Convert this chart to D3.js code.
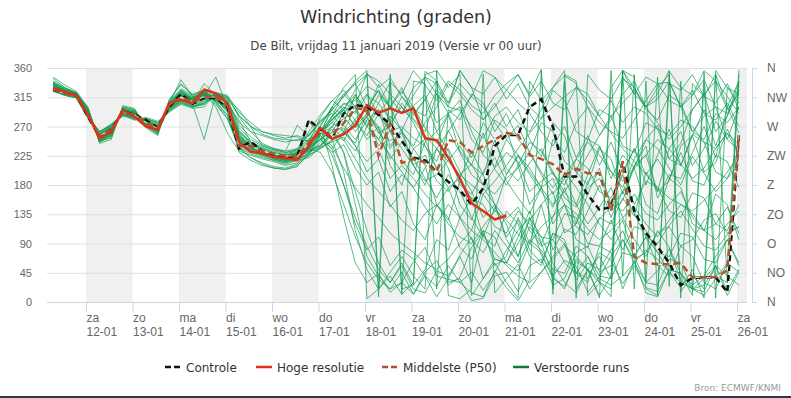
<!DOCTYPE html>
<html lang="nl">
<head>
  <meta charset="UTF-8">
  <title>Windrichting (graden)</title>
  <script src="https://d3js.org/d3.v7.min.js"></script>
  <style>
    body { margin: 0; background: #fff; }
    svg { font-family: "DejaVu Sans", Verdana, sans-serif; display: block; }
    .tick text { fill: #666; }
  </style>
</head>
<body>
  <svg width="791" height="398"></svg>

  <script>
    // Tijdas: 6-uurlijkse stappen vanaf vr 11-01 07:00
    const startTime = Date.UTC(2019, 0, 11, 7);
    const stepHours = 6;

    const dayNames = ["za", "zo", "ma", "di", "wo", "do", "vr", "za", "zo", "ma", "di", "wo", "do", "vr", "za"];
    const dayDates = ["12-01", "13-01", "14-01", "15-01", "16-01", "17-01", "18-01", "19-01", "20-01", "21-01", "22-01", "23-01", "24-01", "25-01", "26-01"];
    const shadedDays = ["12-01", "14-01", "16-01", "18-01", "20-01", "22-01", "24-01", "26-01"];

    const leftTicks = [0, 45, 90, 135, 180, 225, 270, 315, 360];
    const compassLabels = ["N", "NO", "O", "ZO", "Z", "ZW", "W", "NW", "N"];

    // Controle run
    const controle = [326,322,318,285,254,265,293,288,280,268, 300,320,305,314,314,300,236,247,232,226,
      223,224,280,265,252,290,303,300,288,274, 248,222,218,200,185,172,150,175,240,257,
      257,300,312,270,193,193,165,142,146,216, 140,106,85,60,26,37,38,38,15,257];

    // Hoge resolutie (eindigt na 10 dagen)
    const hogeResolutie = [329,323,318,288,252,262,295,285,270,265, 306,311,306,327,321,306,246,231,229,223,
      221,218,240,268,251,258,272,303,291,298, 291,298,252,249,222,190,152,140,127,133];

    // Middelste (P50)
    const p50 = [327,321,318,287,256,264,292,288,276,267, 303,315,308,316,315,303,240,240,232,228,
      225,224,245,262,258,275,298,296,225,275, 214,220,215,200,249,246,230,240,250,260,
      257,226,220,212,195,205,198,198,140,216, 70,60,58,58,60,38,38,38,49,257];

    // Verstoorde runs
    const m01 = [336,326,320,295,250,258,296,292,274,262, 305,326,312,322,316,300,250,236,230,226, 222,230,262,288,310,296,268,284,318,300, 262,236,250,204,176,190,232,196,150,128, 146,110,86,96,60,44,70,30,20,356, 330,300,312,340,300,262,286,300,250,232];
    const m02 = [328,320,316,285,258,268,290,284,278,272, 298,312,300,310,318,306,276,262,256,250, 246,250,248,262,285,304,310,332,322,300, 290,318,346,336,300,295,270,252,286,300, 276,262,296,330,348,336,300,276,262,252, 280,310,336,338,300,318,356,340,296,320];
    const m03 = [340,330,322,298,248,252,300,296,270,258, 310,336,318,325,308,288,240,232,226,220, 215,220,245,270,210,130,60,30,44,15, 30,62,84,40,35,30,46,18,45,80, 110,130,72,40,64,55,15,38,70,96, 60,30,48,82,34,20,26,55,18,50];
    const m04 = [325,318,314,282,260,270,288,280,282,276, 296,308,302,306,322,312,296,270,240,234, 230,234,248,258,282,296,320,290,270,248, 260,210,186,196,218,240,210,196,250,205, 186,214,236,200,168,150,196,240,200,176, 220,250,236,206,180,224,198,170,190,212];
    const m05 = [332,324,318,290,252,262,292,290,276,266, 300,316,310,318,304,282,236,228,222,218, 212,218,230,250,286,320,300,352,330,345, 316,290,312,262,288,232,210,260,204,180, 210,150,176,120,150,96,84,130,120,160, 132,200,170,236,262,210,236,278,250,300];
    const m06 = [330,322,318,288,256,266,298,286,272,264, 306,322,306,314,310,302,262,246,238,232, 228,232,236,250,230,242,206,180,200,146, 170,120,96,150,130,84,66,110,100,60, 48,90,76,36,24,62,50,10,40,356, 20,340,10,355,330,318,342,300,290,330];
    const m07 = [338,328,322,294,246,256,294,294,276,262, 300,318,314,324,318,304,256,240,232,228, 224,236,258,278,296,276,318,296,326,300, 330,286,312,340,306,356,330,320,346,312, 336,300,282,326,310,262,250,296,286,240, 230,276,266,220,210,258,246,200,190,236];
    const m08 = [326,320,316,286,262,272,286,282,280,274, 294,306,300,304,320,316,284,262,244,236, 232,272,255,280,290,262,244,292,266,210, 180,236,210,150,126,186,160,100,86,140, 120,70,56,106,96,44,30,86,76,20, 64,14,8,50,44,26,40,70,96,60];
    const m09 = [334,324,318,292,250,260,296,290,274,262, 308,326,316,320,300,260,232,226,220,216, 210,214,225,260,300,330,350,5,20,350, 12,340,336,20,296,280,320,306,262,290, 250,230,276,262,216,200,250,240,190,226, 206,250,272,220,244,296,320,262,286,340];
    const m10 = [330,322,320,290,254,264,292,288,276,268, 304,316,310,316,316,306,250,238,232,226, 222,226,232,240,262,248,282,296,260,270, 306,282,262,320,290,300,250,230,280,266, 210,246,232,196,180,220,206,170,160,196, 150,186,176,140,130,168,160,120,110,150];
    const m11 = [346,334,324,300,244,250,302,298,268,256, 312,334,320,326,306,282,238,230,224,218, 214,218,222,238,260,230,150,70,40,20, 30,12,46,64,26,38,84,110,56,70, 130,90,150,170,106,120,186,200,140,156, 210,226,170,186,240,256,200,214,266,230];
    const m12 = [324,318,314,284,262,274,288,280,284,278, 292,304,298,300,322,318,292,276,262,256, 252,256,250,262,276,300,290,318,306,338, 320,356,334,310,340,326,302,290,318,336, 350,320,358,12,340,6,350,326,312,344, 330,296,280,318,306,262,250,290,276,300];
    const m13 = [332,326,320,292,252,260,294,292,274,264, 302,318,308,318,310,296,244,234,228,222, 218,222,236,250,266,230,170,110,60,30, 56,20,14,48,40,72,100,36,66,60, 90,126,150,80,112,104,140,180,130,170, 210,240,160,196,190,230,270,222,300,260];
    const m14 = [336,326,318,290,248,258,298,288,272,260, 302,322,312,318,314,300,254,240,232,226, 220,224,246,284,310,326,300,270,296,240, 266,210,180,236,206,150,126,176,150,100, 126,80,60,106,90,46,36,76,64,28, 56,22,16,50,44,10,354,40,30,350];
    const m15 = [328,320,318,288,256,268,290,284,278,270, 298,310,304,312,318,308,264,246,236,230, 226,230,244,262,280,296,270,290,262,236, 262,240,276,300,336,320,296,280,306,270, 296,250,224,276,256,200,180,236,220,166, 206,150,136,190,176,120,110,166,150,96];
    const m16 = [330,324,320,292,250,260,294,290,276,266, 304,318,312,322,312,292,230,218,210,206, 204,208,230,260,250,200,110,50,20,40, 12,30,355,340,10,5,20,350,14,36, 58,20,46,70,90,34,60,50,80,110, 70,100,56,40,86,70,30,20,60,46];
    const m17 = [334,326,320,294,252,262,296,292,274,262, 304,320,312,320,316,302,258,242,234,228, 224,228,234,242,262,290,315,290,335,300, 325,300,268,244,290,310,262,226,208,250, 272,230,196,166,190,150,120,146,176,130, 96,70,110,84,44,20,10,36,60,356];
    const m18 = [326,320,316,286,260,270,288,284,280,272, 296,310,304,308,320,312,272,254,242,236, 232,236,250,272,300,286,262,286,240,264, 218,196,246,262,232,180,166,200,222,186, 160,136,176,190,150,116,104,128,146,170, 136,100,90,118,140,112,86,80,104,116];
    const m19 = [338,328,322,296,248,256,298,294,272,260, 306,324,314,322,310,294,238,222,214,208, 206,212,238,256,235,180,120,80,100,56, 80,66,40,24,56,30,14,8,48,22, 2,34,356,20,350,340,10,28,330,356, 320,346,336,310,300,326,290,280,306,270];
    const m20 = [330,322,318,290,254,264,292,288,276,266, 302,316,310,318,314,302,252,238,230,226, 222,226,232,240,256,272,250,280,296,262, 270,252,240,216,264,230,196,180,206,230, 216,170,186,200,160,146,176,190,150,140, 166,136,126,150,170,130,110,120,146,106];
    const m21 = [332,324,318,290,252,260,294,290,274,264, 304,318,312,320,312,298,248,236,230,224, 220,224,240,270,300,320,336,300,326,276, 300,276,240,206,236,200,170,130,150,96, 70,130,100,60,30,14,50,70,36,356, 346,20,10,336,326,350,316,306,336,296];
    const m22 = [328,320,316,288,258,268,290,286,278,270, 300,312,306,312,318,306,260,244,236,230, 226,230,238,252,226,180,130,85,50,30, 60,26,50,96,80,130,110,166,140,196, 226,206,176,250,230,276,300,256,280,320, 340,300,320,356,6,336,316,350,300,340];
    const m23 = [336,326,320,292,250,258,296,292,272,262, 306,322,314,322,314,298,250,236,228,222, 218,220,226,236,248,262,278,256,290,314, 290,330,346,320,300,356,330,280,300,326, 306,290,262,240,270,222,256,210,246,200, 236,196,220,190,230,186,180,226,216,176];
    const m24 = [330,322,320,290,254,262,292,288,276,268, 302,316,308,316,316,304,254,240,232,226, 222,226,244,262,280,300,280,250,270,220, 246,220,190,160,196,170,130,100,146,120, 70,116,90,40,20,66,50,6,356,40, 350,30,346,24,340,16,336,6,330,320];
    const m25 = [344,330,322,298,246,254,300,296,270,258, 310,328,318,324,308,286,236,222,212,206, 204,210,226,236,250,268,240,200,220,170, 196,176,146,120,150,130,96,76,110,86, 60,96,80,50,44,86,70,40,36,76, 70,30,26,66,60,20,16,56,10,46];
    const m26 = [326,318,314,284,262,272,288,282,282,276, 294,306,300,304,322,316,286,270,262,258, 256,254,246,258,270,282,294,270,306,280, 316,296,286,326,306,336,316,356,346,326, 350,316,340,306,296,330,320,286,310,276, 300,290,266,256,280,270,246,236,260,226];
    const m27 = [334,324,318,292,252,262,296,290,276,264, 306,320,310,318,312,296,246,234,228,224, 220,224,236,230,200,150,100,60,35,20, 46,12,40,8,36,70,30,106,66,60, 100,140,90,130,176,120,166,206,150,196, 236,180,226,266,210,256,296,240,286,326];
    const m28 = [330,322,318,288,256,266,294,288,274,266, 302,318,310,318,316,304,256,240,232,228, 224,228,236,250,270,296,326,350,8,340, 20,26,350,356,30,36,2,6,40,46, 16,56,66,26,36,76,86,46,56,96, 66,76,106,116,86,96,126,136,106,116];
    const m29 = [332,326,320,292,250,260,296,292,274,262, 304,320,314,322,314,300,252,238,230,226, 222,226,230,238,246,254,232,270,250,286, 264,302,318,276,290,250,222,276,250,196, 224,196,170,146,200,176,150,120,96,126, 70,100,76,46,22,50,6,350,30,340];
    const m30 = [328,320,316,286,258,270,290,284,280,272, 298,310,304,250,320,310,268,250,240,234, 230,234,244,258,276,262,240,216,236,190, 210,190,166,146,176,130,160,150,116,106, 140,120,100,96,136,130,90,86,126,80, 116,110,76,70,106,100,66,60,96,56];
    const m31 = [332,322,318,290,256,264,294,290,278,268, 306,342,316,320,314,302,280,246,226,220, 216,222,280,250,236,262,300,320,288,262, 236,210,226,186,170,196,212,180,166,190, 206,230,200,176,196,220,246,226,200,186, 206,226,250,236,212,190,206,236,260,242];
    const m32 = [330,324,318,288,254,262,296,288,274,264, 300,318,306,336,318,296,262,246,232,224, 218,220,228,246,270,250,220,190,170,150, 126,110,136,150,120,100,90,116,140,126, 104,90,116,132,150,136,112,96,110,130, 146,120,100,126,150,136,110,96,120,140];
    const m33 = [334,326,318,292,254,260,294,292,276,262, 302,320,312,318,346,298,246,234,236,220, 216,222,236,260,296,316,340,356,20,46, 70,40,20,356,330,350,10,36,60,30, 6,340,310,330,356,20,50,30,8,346, 320,300,330,350,16,40,20,356,330,306];
    const m34 = [330,320,316,288,256,266,292,286,276,268, 300,314,308,316,314,304,254,242,234,226, 222,228,240,262,286,306,296,276,250,226, 200,176,206,236,262,290,316,300,276,250, 226,200,176,150,170,196,226,256,286,306, 326,300,276,250,270,296,320,340,316,290];
    const m35 = [338,328,322,296,248,256,298,294,272,262, 306,324,312,322,312,296,248,232,226,222, 218,222,234,256,240,206,176,150,130,106, 90,76,60,50,66,90,110,96,76,56, 40,30,46,66,86,70,50,36,26,40, 60,80,66,46,30,20,36,56,40,26];
    const m36 = [326,320,316,286,262,272,290,284,282,276, 296,308,300,306,320,314,288,270,258,252, 250,248,256,276,296,316,336,350,340,320, 300,280,256,236,216,196,180,166,186,210, 236,260,282,300,316,330,310,286,260,236, 216,196,176,160,150,140,156,176,200,226];

    const members = [m01, m02, m03, m04, m05, m06, m07, m08, m09, m10, m11, m12, m13, m14, m15, m16, m17, m18,
      m19, m20, m21, m22, m23, m24, m25, m26, m27, m28, m29, m30, m31, m32, m33, m34, m35, m36];

    const svg = d3.select("svg");
    const plot = { left: 47, right: 747, top: 68, bottom: 302 };

    const timeAt = i => new Date(startTime + i * stepHours * 3600e3);
    const parseDay = s => { const [d, m] = s.split("-").map(Number); return new Date(Date.UTC(2019, m - 1, d)); };

    const x = d3.scaleUtc()
      .domain([new Date(Date.UTC(2019, 0, 11, 3, 52)), new Date(Date.UTC(2019, 0, 26, 5, 10))])
      .range([plot.left, plot.right]);

    const y = d3.scaleLinear()
      .domain([0, 360])
      .range([plot.bottom, plot.top]);

    svg.append("clipPath").attr("id", "plotclip")
      .append("rect")
      .attr("x", plot.left).attr("y", plot.top - 2)
      .attr("width", plot.right - plot.left).attr("height", plot.bottom - plot.top + 4);

    // Titels
    svg.append("text")
      .attr("x", 396).attr("y", 23)
      .attr("text-anchor", "middle")
      .style("font-size", "17.5px").style("fill", "#333")
      .text("Windrichting (graden)");

    svg.append("text")
      .attr("x", 396).attr("y", 50)
      .attr("text-anchor", "middle")
      .style("font-size", "11.8px").style("fill", "#444")
      .text("De Bilt, vrijdag 11 januari 2019 (Versie vr 00 uur)");

    // Weekendbanden
    svg.append("g")
      .selectAll("rect")
      .data(shadedDays)
      .join("rect")
      .attr("x", d => x(parseDay(d)))
      .attr("y", plot.top)
      .attr("width", d => Math.min(plot.right, x(d3.utcDay.offset(parseDay(d), 1))) - x(parseDay(d)))
      .attr("height", plot.bottom - plot.top)
      .style("fill", "#f0f0f0");

    // Rasterlijnen + linker as
    const yAxis = svg.append("g")
      .attr("transform", `translate(${plot.left},0)`)
      .call(d3.axisLeft(y).tickValues(leftTicks).tickSize(-(plot.right - plot.left)).tickPadding(15));
    yAxis.select(".domain").remove();
    yAxis.selectAll(".tick line").style("stroke", "#e0e0e0");
    yAxis.selectAll(".tick text").style("font-size", "11px");

    // Rechter as (kompasrichtingen)
    const yRight = svg.append("g")
      .attr("transform", "translate(752,0)")
      .call(d3.axisRight(y).tickValues(leftTicks).tickSize(5).tickPadding(10)
        .tickFormat((d, i) => compassLabels[i]));
    yRight.select(".domain").attr("d", `M0.5,${plot.top}V${plot.bottom}`).style("stroke", "#ccd6eb");
    yRight.selectAll(".tick line").style("stroke", "#ccd6eb");
    yRight.selectAll(".tick text").style("font-size", "12px");

    // Ensembleleden
    const line = d3.line()
      .x((d, i) => x(timeAt(i)))
      .y(d => y(d));

    const series = svg.append("g").attr("clip-path", "url(#plotclip)");

    series.selectAll(".member")
      .data(members)
      .join("path")
      .attr("class", "member")
      .attr("d", line)
      .style("fill", "none")
      .style("stroke", "#109e52")
      .style("stroke-opacity", 0.7)
      .style("stroke-width", 1);

    series.append("path")
      .attr("d", line(controle))
      .style("fill", "none").style("stroke", "#111")
      .style("stroke-width", 2.5).style("stroke-dasharray", "6,4");

    series.append("path")
      .attr("d", line(p50))
      .style("fill", "none").style("stroke", "#fff").style("stroke-opacity", 0.8)
      .style("stroke-width", 1.2);

    series.append("path")
      .attr("d", line(p50))
      .style("fill", "none").style("stroke", "#b4522d")
      .style("stroke-width", 2.5).style("stroke-dasharray", "7,4");

    series.append("path")
      .attr("d", line(hogeResolutie))
      .style("fill", "none").style("stroke", "#dc3218")
      .style("stroke-width", 2.5).style("stroke-linejoin", "round");

    // X-as met dagen
    const dayTicks = dayDates.map(parseDay);
    const xAxis = svg.append("g")
      .attr("transform", `translate(0,${plot.bottom})`)
      .call(d3.axisBottom(x).tickValues(dayTicks).tickSize(10).tickFormat(""));
    xAxis.select(".domain").attr("d", `M${plot.left},0.5H${plot.right}`).style("stroke", "#ccd6eb");
    xAxis.selectAll(".tick line").style("stroke", "#ccd6eb");
    xAxis.selectAll(".tick").each(function(d, i) {
      const t = d3.select(this).append("text")
        .attr("text-anchor", "start")
        .style("font-size", "12px").style("fill", "#666");
      t.append("tspan").attr("x", 0).attr("y", 20).text(dayNames[i]);
      t.append("tspan").attr("x", 0).attr("y", 34).text(dayDates[i]);
    });

    // Legenda
    const legendItems = [
      { label: "Controle", color: "#111", dash: "6,3", x: 165 },
      { label: "Hoge resolutie", color: "#dc3218", dash: null, x: 256 },
      { label: "Middelste (P50)", color: "#b4522d", dash: "6,3", x: 382 },
      { label: "Verstoorde runs", color: "#0b7a3a", dash: null, x: 513 }
    ];
    const legend = svg.append("g").attr("transform", "translate(0,367)");
    const item = legend.selectAll("g").data(legendItems).join("g")
      .attr("transform", d => `translate(${d.x},0)`);
    item.append("line")
      .attr("x1", 0).attr("x2", 16).attr("y1", 0).attr("y2", 0)
      .style("stroke", d => d.color).style("stroke-width", 2.5)
      .style("stroke-dasharray", d => d.dash);
    item.append("text")
      .attr("x", 21).attr("y", 4.5)
      .style("font-size", "12px").style("fill", "#333")
      .text(d => d.label);

    // Bron
    svg.append("text")
      .attr("x", 781).attr("y", 391)
      .attr("text-anchor", "end")
      .style("font-size", "9px").style("fill", "#999")
      .text("Bron: ECMWF/KNMI");

    svg.append("rect")
      .attr("x", 0).attr("y", 396).attr("width", 791).attr("height", 2)
      .style("fill", "#2b3a4e");
  </script>
</body>
</html>
